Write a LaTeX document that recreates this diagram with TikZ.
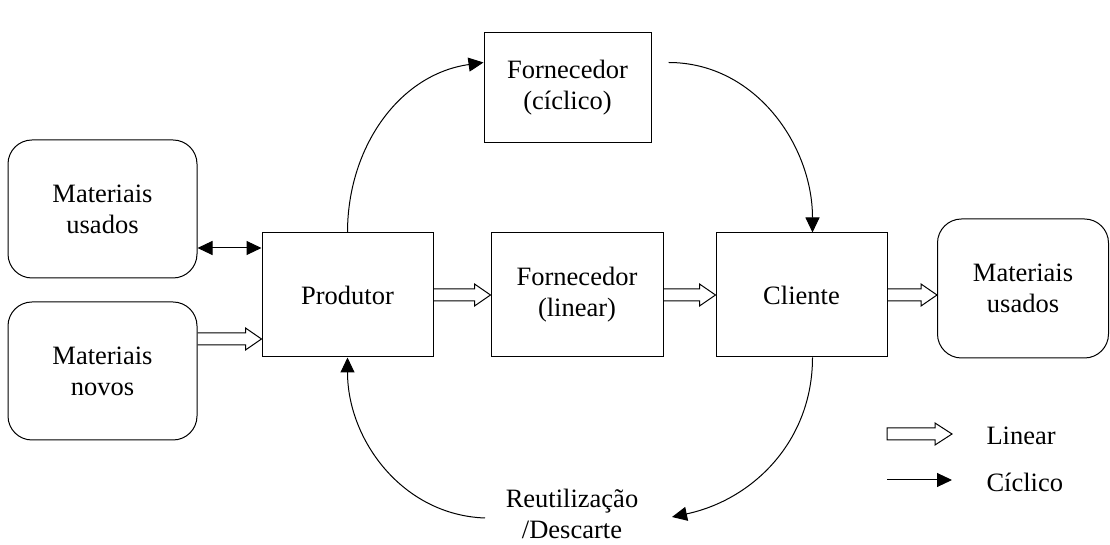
\documentclass[tikz,border=0pt]{standalone}
\usepackage{fontspec}
\setmainfont{Liberation Serif}
\usetikzlibrary{calc,arrows.meta}
\newcommand\hollowarrow[3][]{%
  \path let \p1=(#2), \p2=(#3) in
    [draw,line width=1pt,#1] (\x1,\y1+6pt) -- (\x2-16pt,\y1+6pt) -- (\x2-16pt,\y1+11pt)
    -- (\x2,\y1) -- (\x2-16pt,\y1-11pt) -- (\x2-16pt,\y1-6pt) -- (\x1,\y1-6pt);}
\begin{document}
\begin{tikzpicture}[x=1pt,y=1pt,
  every node/.style={font=\fontsize{26.5}{31}\selectfont, align=center},
  box/.style={draw, line width=1pt, inner sep=0pt},
  roundbox/.style={box, rounded corners=24pt},
  cyc/.style={line width=1pt, -{Triangle[length=15pt,width=14pt]}},
  cycboth/.style={line width=1pt, {Triangle[length=15pt,width=14pt]}-{Triangle[length=15pt,width=14pt]}}]
\useasboundingbox (0,0) rectangle (1110,545);

% boxes
\node[roundbox, minimum width=189pt, minimum height=138pt] (usadosL) at (102.5,336) {Materiais\\usados};
\node[roundbox, minimum width=189pt, minimum height=138pt] (novos) at (102.5,174) {Materiais\\novos};
\node[box, minimum width=171pt, minimum height=124pt] (prod) at (347.5,250) {Produtor};
\node[box, minimum width=172pt, minimum height=124pt] (flin) at (577,250) {Fornecedor\\(linear)};
\node[box, minimum width=171pt, minimum height=124pt] (cli) at (801.5,250) {Cliente};
\node[roundbox, minimum width=171pt, minimum height=139pt] (usadosR) at (1023,256.5) {Materiais\\usados};
\node[box, minimum width=167pt, minimum height=110pt] (fcic) at (567.5,457) {Fornecedor\\(c\'iclico)};
\node (reu) at (572,31) {Reutiliza\c{c}\~ao\\/Descarte};

% linear flows
\coordinate (novosOut) at (novos.east |- 0,206);
\coordinate (prodIn) at (prod.west |- 0,206);
\hollowarrow{novosOut}{prodIn}
\hollowarrow{prod.east}{flin.west}
\hollowarrow{flin.east}{cli.west}
\hollowarrow{cli.east}{usadosR.west}

% cyclic flows
\coordinate (usadosOut) at (usadosL.east |- 0,297);
\coordinate (prodUp) at (prod.west |- 0,297);
\draw[cycboth] (usadosOut) -- (prodUp);
\coordinate (fcicIn) at ($(fcic.north west)+(0,-30)$);
\coordinate (fcicOut) at ($(fcic.north east)+(17,-30)$);
\coordinate (cliTop) at ($(cli.north)+(11,0)$);
\coordinate (cliBot) at ($(cli.south)+(11,0)$);
\coordinate (reuR) at (672,28);
\coordinate (reuL) at (485,27);
\draw[cyc] (prod.north) to[out=90,in=188] (fcicIn);
\draw[cyc] (fcicOut) to[out=0,in=90] (cliTop);
\draw[cyc] (cliBot) to[out=-90,in=12] (reuR);
\draw[cyc] (reuL) to[out=178,in=-90] (prod.south);

% legend
\coordinate (linA) at (887,111);
\coordinate (linB) at (952,111);
\coordinate (cycA) at (887,65);
\coordinate (cycB) at (952,65);
\path let \p1=(linA), \p2=(linB) in
  [draw,line width=1pt] (\x1,\y1+6pt) -- (\x2-17pt,\y1+6pt) -- (\x2-17pt,\y1+11pt)
  -- (\x2,\y1) -- (\x2-17pt,\y1-11pt) -- (\x2-17pt,\y1-6pt) -- (\x1,\y1-6pt) -- cycle;
\draw[cyc] (cycA) -- (cycB);
\node[anchor=base west] (legLin) at (983,100) {Linear};
\node[anchor=base west] (legCyc) at (983,53) {C\'iclico};
\end{tikzpicture}
\end{document}
